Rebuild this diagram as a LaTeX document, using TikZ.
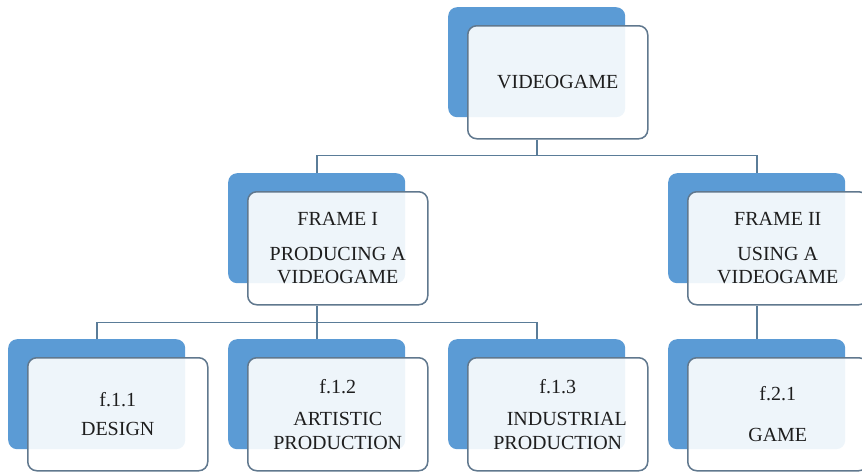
\documentclass[tikz,border=0pt]{standalone}
\usepackage{fontspec}
\setmainfont{Liberation Serif}
\definecolor{backblue}{HTML}{5B9BD5}
\definecolor{frontedge}{HTML}{60788E}
\definecolor{linkc}{HTML}{5A7C98}
\definecolor{txt}{HTML}{1E1E1E}
\tikzset{
  back/.style={fill=backblue, draw=none, rounded corners=9pt, minimum width=177pt,
    minimum height=110pt, anchor=north west, inner sep=0pt},
  front/.style={fill=white, fill opacity=0.9, text opacity=1, draw=frontedge, draw opacity=1,
    line width=1.5pt, rounded corners=9pt, minimum width=180pt, minimum height=113pt,
    anchor=north west, inner sep=0pt, align=center, text=txt,
    font=\fontsize{20}{23.5}\selectfont},
  link/.style={draw=linkc, line width=1.9pt}
}
\begin{document}
\begin{tikzpicture}[x=1pt,y=-1pt]
\useasboundingbox (0,0) rectangle (862,472);
\clip (0,0) rectangle (862,472);
% top
\node[back] (topb) at (448,7) {};
\node[front] (top) at (467,25) {VIDEOGAME};
% frames
\node[back] (f1b) at (228,173) {};
\node[front] (f1) at (247,191) {FRAME I\\[11pt]PRODUCING A\\VIDEOGAME};
\node[back] (f2b) at (668,173) {};
\node[front] (f2) at (687,191) {FRAME II\\[11pt]USING A\\VIDEOGAME};
% bottom row
\node[back] (db) at (8,339) {};
\node[front] (d) at (27,357) {f.1.1\\[6pt]DESIGN};
\node[back] (ab) at (228,339) {};
\node[front] (a) at (247,357) {f.1.2\\[9pt]ARTISTIC\\PRODUCTION};
\node[back] (ib) at (448,339) {};
\node[front] (i) at (467,357) {f.1.3\\[9pt]\hspace*{0.9em}INDUSTRIAL\\PRODUCTION};
\node[back] (gb) at (668,339) {};
\node[front] (g) at (687,357) {f.2.1\\[18pt]GAME};
% connectors
\draw[link] (topb.south |- top.south) -- ++(0,16) coordinate (j1);
\draw[link] (f1b.north) |- (j1) -| (f2b.north);
\draw[link] (f1b.south |- f1.south) -- ++(0,17) coordinate (j2);
\draw[link] (db.north) |- (j2) -| (ib.north);
\draw[link] (ab.north) -- (j2);
\draw[link] (f2b.south |- f2.south) -- (gb.north);
\end{tikzpicture}
\end{document}
